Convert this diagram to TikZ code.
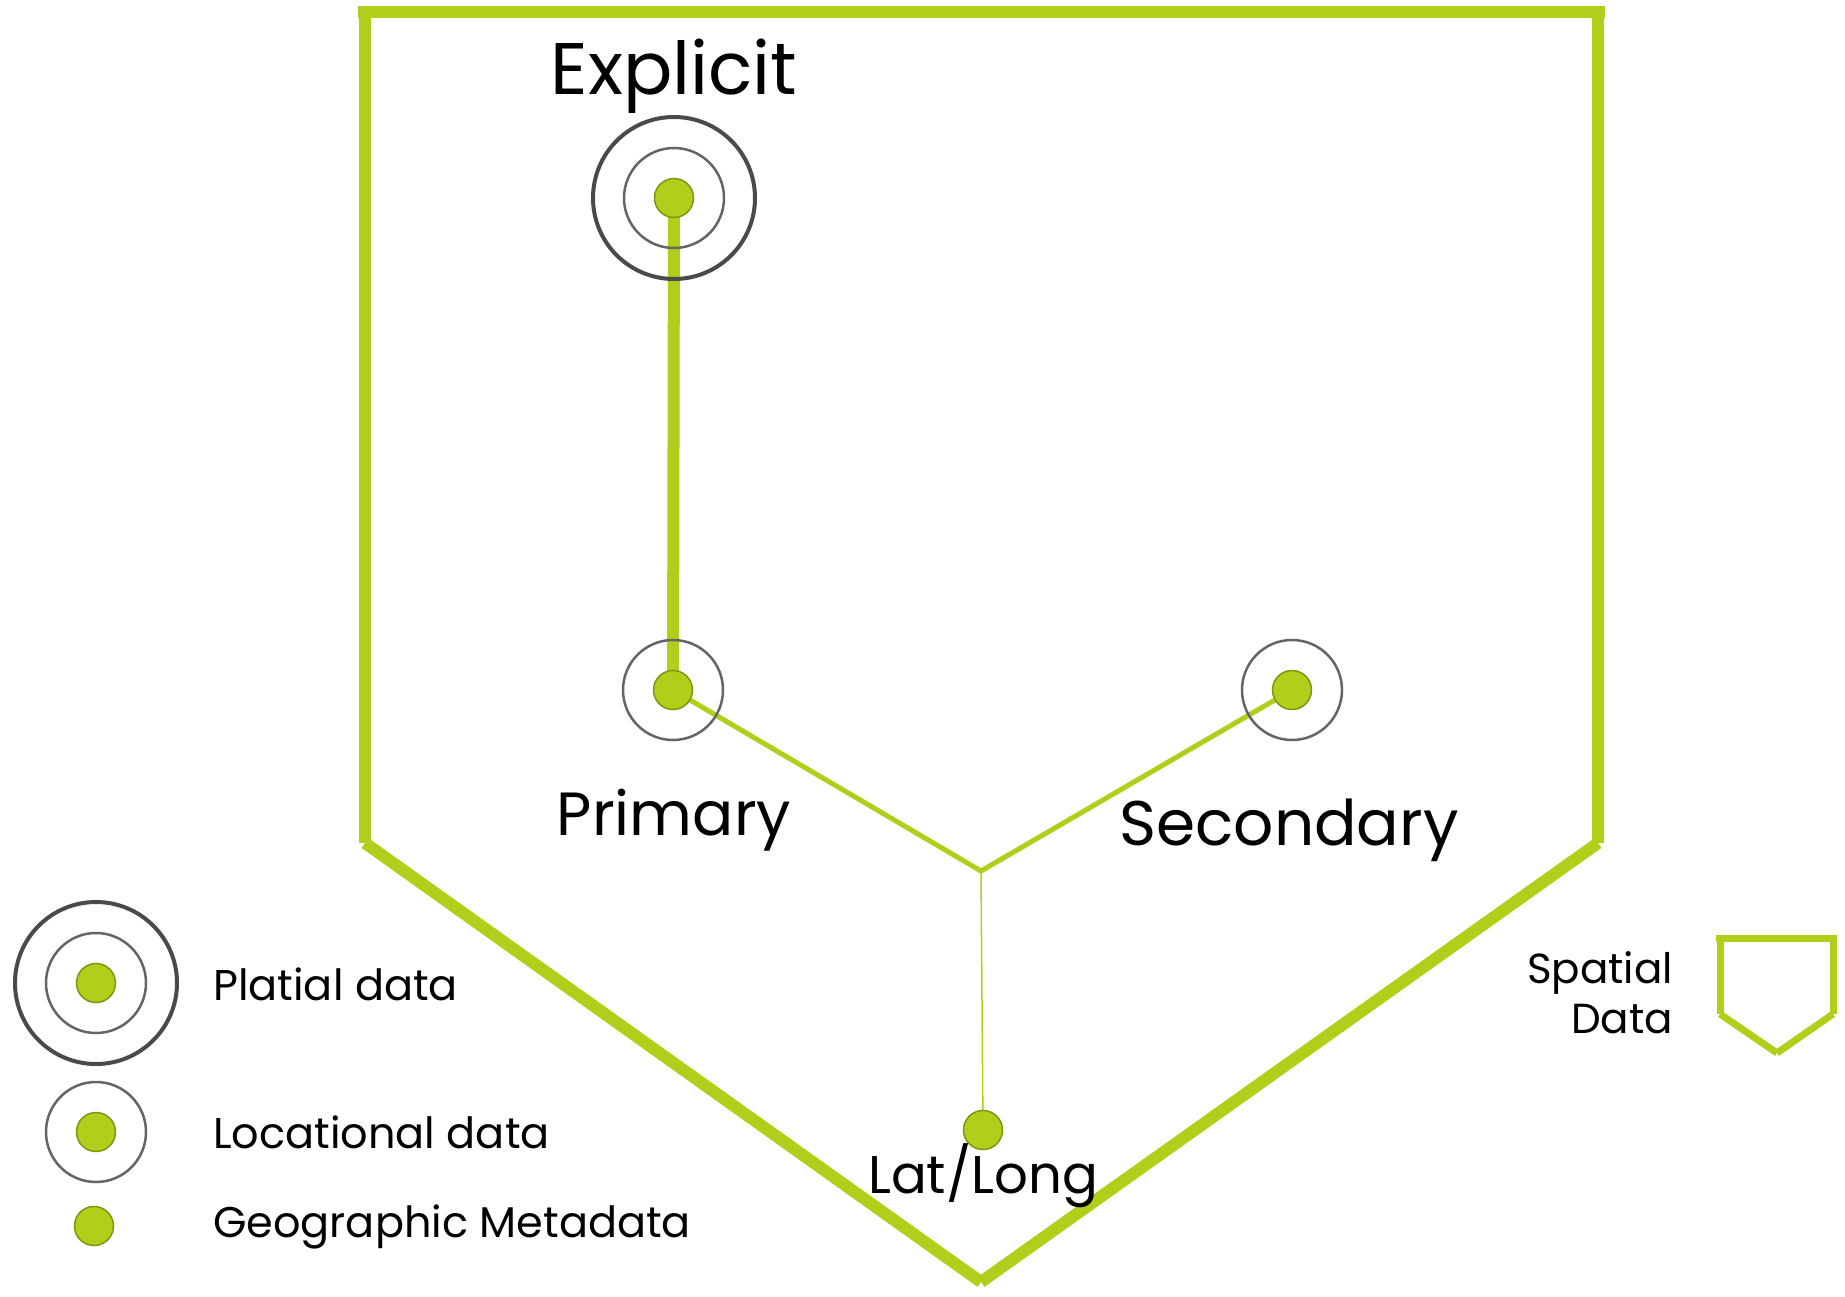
\documentclass[tikz,border=0pt]{standalone}
\usepackage{fontspec}
\setmainfont{Poppins}
\usetikzlibrary{backgrounds}
\definecolor{lime}{HTML}{B0CF1A}
\definecolor{limedark}{HTML}{7E9612}
\definecolor{ringgray}{HTML}{4A4A4A}
\tikzset{
  frame/.style={draw=lime, line width=12pt, line cap=butt},
  smallframe/.style={draw=lime, line width=7pt, line cap=butt},
  thickconn/.style={draw=lime, line width=12pt},
  midconn/.style={draw=lime, line width=5pt},
  thinconn/.style={draw=lime, line width=1.5pt},
  dot/.style={circle, inner sep=0pt, minimum size=39pt, fill=lime, draw=limedark, line width=1.5pt},
  ringin/.style={circle, inner sep=0pt, minimum size=100pt, draw=ringgray!85, line width=2.5pt},
  ringout/.style={circle, inner sep=0pt, minimum size=162pt, draw=ringgray, line width=4pt},
  lbl/.style={inner sep=0pt, text=black},
}
\begin{document}
\begin{tikzpicture}[x=1pt, y=-1pt]
\useasboundingbox (0,0) rectangle (1845,1297);
\coordinate (exc) at (674,198);
\coordinate (prc) at (673,690);
\coordinate (sec) at (1292,690);
\coordinate (llc) at (983,1130);
\coordinate (jn) at (981,871);
\begin{scope}[on background layer]
\fill[white] (0,0) rectangle (1845,1297);
\draw[thickconn] (exc) -- (prc);
\draw[midconn] (prc) -- (jn) -- (sec);
\draw[thinconn] (jn) -- (llc);
\end{scope}
% spatial frame
\draw[frame] (358,12) -- (1605,12);
\draw[frame] (365,6) -- (365,843);
\draw[frame] (1598,6) -- (1598,843);
\draw[frame] (365,843) -- (981,1282);
\draw[frame] (1598,843) -- (981,1282);
% explicit
\node[ringout] (exo) at (exc) {};
\node[ringin] (exi) at (exc) {};
\node[dot] (ex) at (exc) {};
\node[lbl, font=\fontsize{73}{80}\selectfont] (extxt) at (674,76) {Explicit};
% primary
\node[ringin] (pri) at (prc) {};
\node[dot] (pr) at (prc) {};
\node[lbl, font=\fontsize{61}{70}\selectfont] (prtxt) at (674,820) {Primary};
% secondary
\node[ringin] (sei) at (sec) {};
\node[dot] (se) at (sec) {};
\node[lbl, font=\fontsize{63}{70}\selectfont] (setxt) at (1289,830) {Secondary};
% lat/long
\node[dot] (ll) at (llc) {};
\node[lbl, font=\fontsize{53}{60}\selectfont] (lltxt) at (983,1176) {Lat/Long};
% legend
\node[ringout] (lg1o) at (96,983) {};
\node[ringin] (lg1i) at (96,983) {};
\node[dot] (lg1) at (96,983) {};
\node[lbl, anchor=west, font=\fontsize{43}{50}\selectfont] (lg1t) at (213,984) {Platial data};
\node[ringin] (lg2i) at (96,1132) {};
\node[dot] (lg2) at (96,1132) {};
\node[lbl, anchor=west, font=\fontsize{43}{50}\selectfont] (lg2t) at (213,1132) {Locational data};
\node[dot] (lg3) at (94,1226) {};
\node[lbl, anchor=west, font=\fontsize{43}{50}\selectfont] (lg3t) at (213,1227) {Geographic Metadata};
% spatial legend
\node[lbl, anchor=east, align=right, font=\fontsize{42}{50}\selectfont] (sptxt) at (1673,993) {Spatial\\Data};
\draw[smallframe] (1716,938) -- (1837,938);
\draw[smallframe] (1720,935) -- (1720,1014);
\draw[smallframe] (1833,935) -- (1833,1014);
\draw[smallframe] (1720,1014) -- (1777,1053);
\draw[smallframe] (1833,1014) -- (1777,1053);
\end{tikzpicture}
\end{document}
